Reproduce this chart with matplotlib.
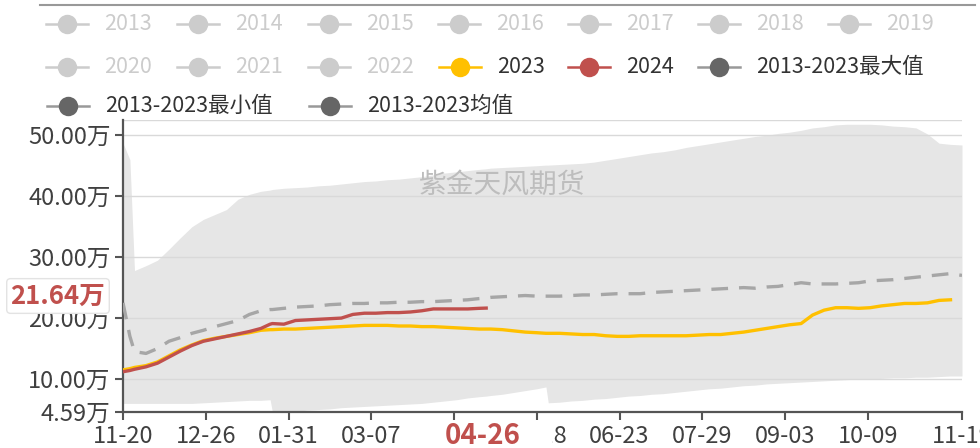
import numpy as np
import matplotlib
matplotlib.use('Agg')
import matplotlib.pyplot as plt
from matplotlib.lines import Line2D
from matplotlib.patches import Rectangle

plt.rcParams['font.family'] = ['Noto Sans CJK SC', 'DejaVu Sans']

# day index from 11-20 (category axis, 366 days)
days = [0, 3, 5, 10, 15, 20, 25, 30, 35, 40, 45, 50, 55, 60, 64, 65, 70, 75, 80, 85,
        90, 95, 100, 105, 110, 115, 120, 125, 130, 135, 140, 145, 150, 155, 158, 160,
        165, 170, 175, 180, 184, 185, 190, 195, 200, 205, 210, 215, 220, 225, 230,
        235, 240, 245, 250, 255, 260, 265, 270, 275, 280, 285, 290, 295, 300, 305,
        310, 315, 320, 325, 330, 335, 340, 345, 350, 355, 360, 365]

max_2013_2023 = [48.7, 46.0, 27.8, 28.6, 29.5, 31.3, 33.2, 35.0, 36.2, 37.0, 37.8, 39.5, 40.3,
                 40.8, 41.0, 41.1, 41.3, 41.4, 41.5, 41.7, 41.8, 42.0, 42.2, 42.4, 42.5, 42.7,
                 42.8, 43.0, 43.2, 43.5, 43.8, 44.0, 44.2, 44.4, 44.5, 44.6, 44.7, 44.8, 44.9,
                 45.0, 45.1, 45.1, 45.2, 45.3, 45.4, 45.6, 45.9, 46.2, 46.5, 46.8, 47.1, 47.3,
                 47.6, 48.0, 48.3, 48.6, 48.9, 49.2, 49.5, 49.8, 50.0, 50.3, 50.5, 50.8, 51.2,
                 51.4, 51.7, 51.8, 51.8, 51.8, 51.7, 51.5, 51.4, 51.2, 50.2, 48.7, 48.5, 48.4]

min_2013_2023 = [6.0, 6.0, 6.0, 6.0, 6.0, 6.0, 6.0, 6.0, 6.1, 6.2, 6.3, 6.4, 6.5, 6.5, 6.6,
                 4.59, 4.59, 4.7, 4.9, 5.0, 5.1, 5.3, 5.4, 5.5, 5.6, 5.7, 5.8, 5.9, 6.0, 6.2,
                 6.4, 6.6, 6.9, 7.1, 7.2, 7.3, 7.5, 7.8, 8.1, 8.4, 8.7, 6.1, 6.2, 6.4, 6.5,
                 6.7, 6.8, 7.0, 7.2, 7.3, 7.5, 7.6, 7.8, 8.0, 8.2, 8.4, 8.5, 8.7, 8.9, 9.0,
                 9.2, 9.3, 9.4, 9.5, 9.6, 9.7, 9.8, 9.9, 10.0, 10.0, 10.1, 10.2, 10.2, 10.3,
                 10.3, 10.4, 10.5, 10.5]

mean_2013_2023 = [22.5, 17.0, 14.5, 14.2, 15.0, 16.2, 16.8, 17.5, 18.0, 18.6, 19.1, 19.6, 20.6,
                  21.2, 21.4, 21.4, 21.6, 21.8, 21.9, 22.0, 22.2, 22.3, 22.4, 22.4, 22.5, 22.5,
                  22.6, 22.6, 22.7, 22.7, 22.8, 22.9, 23.0, 23.2, 23.3, 23.4, 23.5, 23.6, 23.7,
                  23.6, 23.6, 23.6, 23.6, 23.7, 23.8, 23.8, 23.9, 24.0, 24.0, 24.0, 24.2, 24.3,
                  24.4, 24.5, 24.6, 24.7, 24.8, 24.9, 25.0, 24.9, 25.1, 25.2, 25.5, 25.8, 25.6,
                  25.6, 25.6, 25.7, 25.8, 26.1, 26.2, 26.3, 26.5, 26.7, 26.9, 27.1, 27.3, 27.0]

s2023 = [11.5, 11.7, 11.9, 12.2, 12.8, 13.8, 14.8, 15.6, 16.3, 16.7, 17.0, 17.3, 17.6, 18.0,
         18.1, 18.1, 18.2, 18.2, 18.3, 18.4, 18.5, 18.6, 18.7, 18.8, 18.8, 18.8, 18.7, 18.7,
         18.6, 18.6, 18.5, 18.4, 18.3, 18.2, 18.2, 18.2, 18.1, 17.9, 17.7, 17.6, 17.5, 17.5,
         17.5, 17.4, 17.3, 17.3, 17.1, 17.0, 17.0, 17.1, 17.1, 17.1, 17.1, 17.1, 17.2, 17.3,
         17.3, 17.5, 17.7, 18.0, 18.3, 18.6, 18.9, 19.1, 20.5, 21.3, 21.7, 21.7, 21.6, 21.7,
         22.0, 22.2, 22.4, 22.4, 22.5, 22.9, 23.0]

s2024 = [11.2, 11.4, 11.6, 12.0, 12.6, 13.6, 14.6, 15.5, 16.2, 16.6, 17.0, 17.4, 17.8, 18.3,
         19.0, 19.1, 19.0, 19.6, 19.7, 19.8, 19.9, 20.0, 20.6, 20.8, 20.8, 20.9, 20.9, 21.0,
         21.2, 21.5, 21.5, 21.5, 21.5, 21.6, 21.64]

tick_days = [0, 36, 72, 108, 144, 180, 216, 252, 288, 324, 365]
tick_labels = ['11-20', '12-26', '01-31', '03-07', '04-12', '05-18', '06-23', '07-29',
               '09-03', '10-09', '11-19']
y_ticks = [4.59, 10, 20, 30, 40, 50]

legend_grey = ['2013', '2014', '2015', '2016', '2017', '2018', '2019', '2020', '2021', '2022']

W, H = 980, 448
fig = plt.figure(figsize=(W / 100, H / 100), dpi=100)
ax = fig.add_axes([123 / W, (H - 412) / H, 839 / W, 292 / H])

ax.fill_between(days, min_2013_2023, max_2013_2023, color='#e6e6e6', lw=0, zorder=1)
for y in [10, 20, 30, 40, 50, 52.5]:
    ax.axhline(y, color='#d9d9d9', lw=1, zorder=1.5)
ax.plot(days, mean_2013_2023, color='#a6a6a6', lw=2.4, ls=(0, (5, 3.3)), zorder=3)
ax.plot(days[:len(s2023)], s2023, color='#FFC000', lw=2.4, zorder=4)
ax.plot(days[:len(s2024)], s2024, color='#C0504D', lw=2.4, zorder=5)

ax.set_xlim(0, 365)
ax.set_ylim(4.59, 52.5)
for s in ['top', 'right']:
    ax.spines[s].set_visible(False)
for s in ['left', 'bottom']:
    ax.spines[s].set_color('#555555')
    ax.spines[s].set_linewidth(1.6)
ax.set_yticks(y_ticks)
ax.set_yticklabels(['%.2f万' % v for v in y_ticks])
ax.set_xticks(tick_days)
ax.set_xticklabels(tick_labels)
ax.tick_params(axis='both', length=6, width=1.5, color='#555555', labelcolor='#404040',
               labelsize=17)
ax.tick_params(axis='y', pad=3)
ax.tick_params(axis='x', pad=3)

# watermark
ax.text(0.452, 0.78, '紫金天风期货', transform=ax.transAxes, ha='center', va='center',
        fontsize=20, color='#bdbdbd', zorder=2)

# current value / date pointer labels
fig.text(58 / W, 1 - 296 / H, '21.64万', ha='center', va='center', fontsize=18.5,
         fontweight='bold', color='#C0504D',
         bbox=dict(boxstyle='round,pad=0.15', fc='white', ec='#e3e3e3', lw=1))
fig.add_artist(Rectangle((417 / W, 0), 135 / W, 27 / H, transform=fig.transFigure,
                         fc='white', ec='none', zorder=5))
fig.text(483 / W, 1 - 436 / H, '04-26', ha='center', va='center', fontsize=20,
         fontweight='bold', color='#C0504D', zorder=6)

# top border
fig.add_artist(Line2D([40 / W, 975 / W], [1 - 5 / H] * 2, color='#999999', lw=1.5))

# legend
items = []
row1 = [104, 235, 366, 496, 626, 756, 886]
for i, name in enumerate(legend_grey[:7]):
    items.append((row1[i], 24, name, '#cccccc', '#cccccc', '#cccccc'))
row2 = [104, 235, 366]
for i, name in enumerate(legend_grey[7:]):
    items.append((row2[i], 67, name, '#cccccc', '#cccccc', '#cccccc'))
items.append((497, 67, '2023', '#FFC000', '#FFC000', '#333333'))
items.append((626, 67, '2024', '#C0504D', '#C0504D', '#333333'))
items.append((756, 67, '2013-2023最大值', '#666666', '#999999', '#333333'))
items.append((105, 106, '2013-2023最小值', '#666666', '#999999', '#333333'))
items.append((367, 106, '2013-2023均值', '#666666', '#999999', '#333333'))

for tx, ty, name, mcol, lcol, tcol in items:
    cx = tx - 37
    yy = 1 - ty / H
    fig.add_artist(Line2D([(cx - 21) / W, (cx + 21) / W], [yy, yy], color=lcol, lw=1.8))
    fig.add_artist(Line2D([cx / W], [yy], marker='o', markersize=14, color=mcol,
                          markeredgewidth=0))
    fig.text(tx / W, yy, name, ha='left', va='center', fontsize=15.5, color=tcol)

fig.savefig('out.png', dpi=100)
